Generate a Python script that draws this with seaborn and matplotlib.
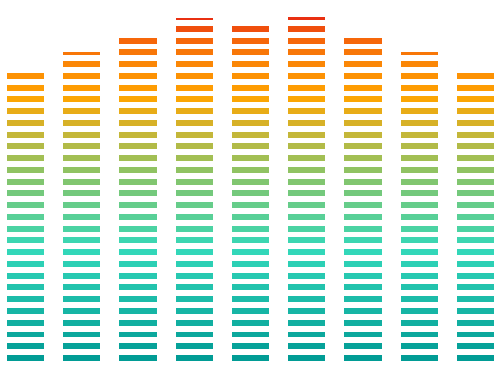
import numpy as np
import matplotlib
matplotlib.use("Agg")
import matplotlib.pyplot as plt
from matplotlib.colors import LinearSegmentedColormap
import seaborn as sns

#---------------------------------
# data
#---------------------------------
categories = ["A", "B", "C", "D", "E", "F", "G", "H", "I"]
values = [24.7, 26.3, 27.7, 29.22, 28.7, 29.28, 27.7, 26.3, 24.7]

# gradient stops (value, colour) for the vertical colour ramp
stop_values = [0.0, 9.5, 16.0, 19.5, 22.5, 25.5, 27.5, 28.5, 29.6]
stop_colors = ["#009a94", "#33d8ba", "#8cc466", "#c8b636", "#ffa500",
               "#fb8506", "#f5630a", "#ef4b0e", "#e62412"]

#---------------------------------
# style
#---------------------------------
sns.set_theme(style="white")

seg_h = 0.51   # symbol height, in units of one repeat
bar_w = 0.66
top = stop_values[-1]
cmap = LinearSegmentedColormap.from_list(
    "eq", [(v / top, c) for v, c in zip(stop_values, stop_colors)])

fig = plt.figure(figsize=(5, 3.7), dpi=100)
ax = fig.add_axes([0, 0, 1, 1])

x = np.arange(len(categories))
n_max = int(np.ceil(max(values)))
for k in range(n_max):
    heights = np.clip(np.array(values) - k, 0, seg_h)
    mask = heights > 0
    col = cmap(min((k + 0.25) / top, 1.0))
    ax.bar(x[mask], heights[mask], bottom=k, width=bar_w,
           color=col, edgecolor="none", linewidth=0)

ax.set_xlim(-0.453, len(categories) - 1 + 0.436)
ax.set_ylim(-0.766, 30.72)
ax.axis("off")

fig.savefig("out.png", dpi=100, facecolor="white")
